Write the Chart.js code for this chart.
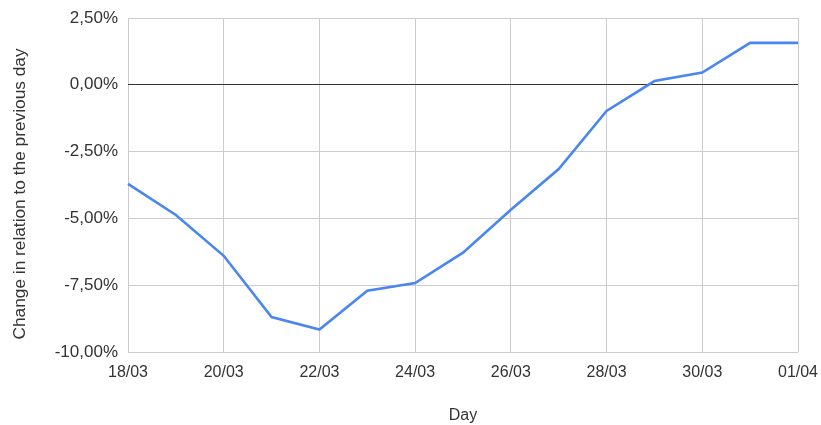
<!DOCTYPE html>
<html>
<head>
<meta charset="utf-8">
<script src="https://cdn.jsdelivr.net/npm/chart.js@4/dist/chart.umd.min.js"></script>
<style>
  html, body { margin: 0; padding: 0; background: #fff; }
  #wrap { width: 821px; height: 425px; position: relative; }
</style>
</head>
<body>
<div id="wrap"><canvas id="chart"></canvas></div>
<script>
// Daily dates (dd/mm)
const days = ['18/03','19/03','20/03','21/03','22/03','23/03','24/03','25/03',
              '26/03','27/03','28/03','29/03','30/03','31/03','01/04'];
// Change in relation to the previous day, in percent
const changePct = [-3.71, -4.87, -6.40, -8.69, -9.16, -7.71, -7.42, -6.28,
                   -4.68, -3.15, -0.98, 0.14, 0.46, 1.57, 1.57];
// Value axis ticks
const yTicks = [-10, -7.5, -5, -2.5, 0, 2.5];
const yTitle = 'Change in relation to the previous day';
const xTitle = 'Day';

const family = '"Liberation Sans", Arial, sans-serif';
const font = { family: family, size: 16 };
const textColor = '#333';
const gridColor = '#cccccc';

// Rotated value-axis title, drawn a little below the plot's centre line
const yTitlePlugin = {
  id: 'yTitle',
  afterDraw(chart) {
    const c = chart.ctx;
    c.save();
    c.translate(20, 194);
    c.rotate(-Math.PI / 2);
    c.font = '17.3px ' + family;
    c.fillStyle = textColor;
    c.textAlign = 'center';
    c.textBaseline = 'middle';
    c.fillText(yTitle, 0, 0);
    c.restore();
  }
};

new Chart(document.getElementById('chart'), {
  type: 'line',
  data: {
    labels: days,
    datasets: [{
      label: 'Change',
      data: changePct,
      borderColor: '#4a86f0',
      borderWidth: 2.6,
      pointRadius: 0,
      tension: 0,
      fill: false
    }]
  },
  plugins: [yTitlePlugin],
  options: {
    responsive: true,
    maintainAspectRatio: false,
    animation: false,
    layout: { padding: { top: 18, right: 23, bottom: 0, left: 0 } },
    plugins: { legend: { display: false }, tooltip: { enabled: false } },
    scales: {
      x: {
        offset: false,
        border: { display: false },
        grid: {
          drawTicks: false,
          color: ctx => (ctx.index % 2 === 0 ? gridColor : 'rgba(0,0,0,0)'),
          lineWidth: 1
        },
        ticks: {
          autoSkip: false,
          maxRotation: 0,
          padding: 11,
          color: textColor,
          font: font,
          callback: (v, i) => (i % 2 === 0 ? days[i] : '')
        },
        title: {
          display: true,
          text: xTitle,
          color: textColor,
          font: font,
          padding: { top: 22, bottom: 0 }
        },
        afterFit: s => { s.height = 425 - 352; s.paddingLeft = 0; s.paddingRight = 0; }
      },
      y: {
        min: yTicks[0],
        max: yTicks[yTicks.length - 1],
        border: { display: false },
        afterBuildTicks: s => { s.ticks = yTicks.map(v => ({ value: v })); },
        grid: {
          drawTicks: false,
          color: ctx => (ctx.tick && ctx.tick.value === 0 ? '#333333' : gridColor),
          lineWidth: 1
        },
        ticks: {
          padding: 10,
          color: textColor,
          font: { family: family, size: 17 },
          callback: v => v.toFixed(2).replace('.', ',') + '%'
        },
        afterFit: s => { s.width = 128; s.paddingTop = 0; s.paddingBottom = 0; }
      }
    }
  }
});
</script>
</body>
</html>
